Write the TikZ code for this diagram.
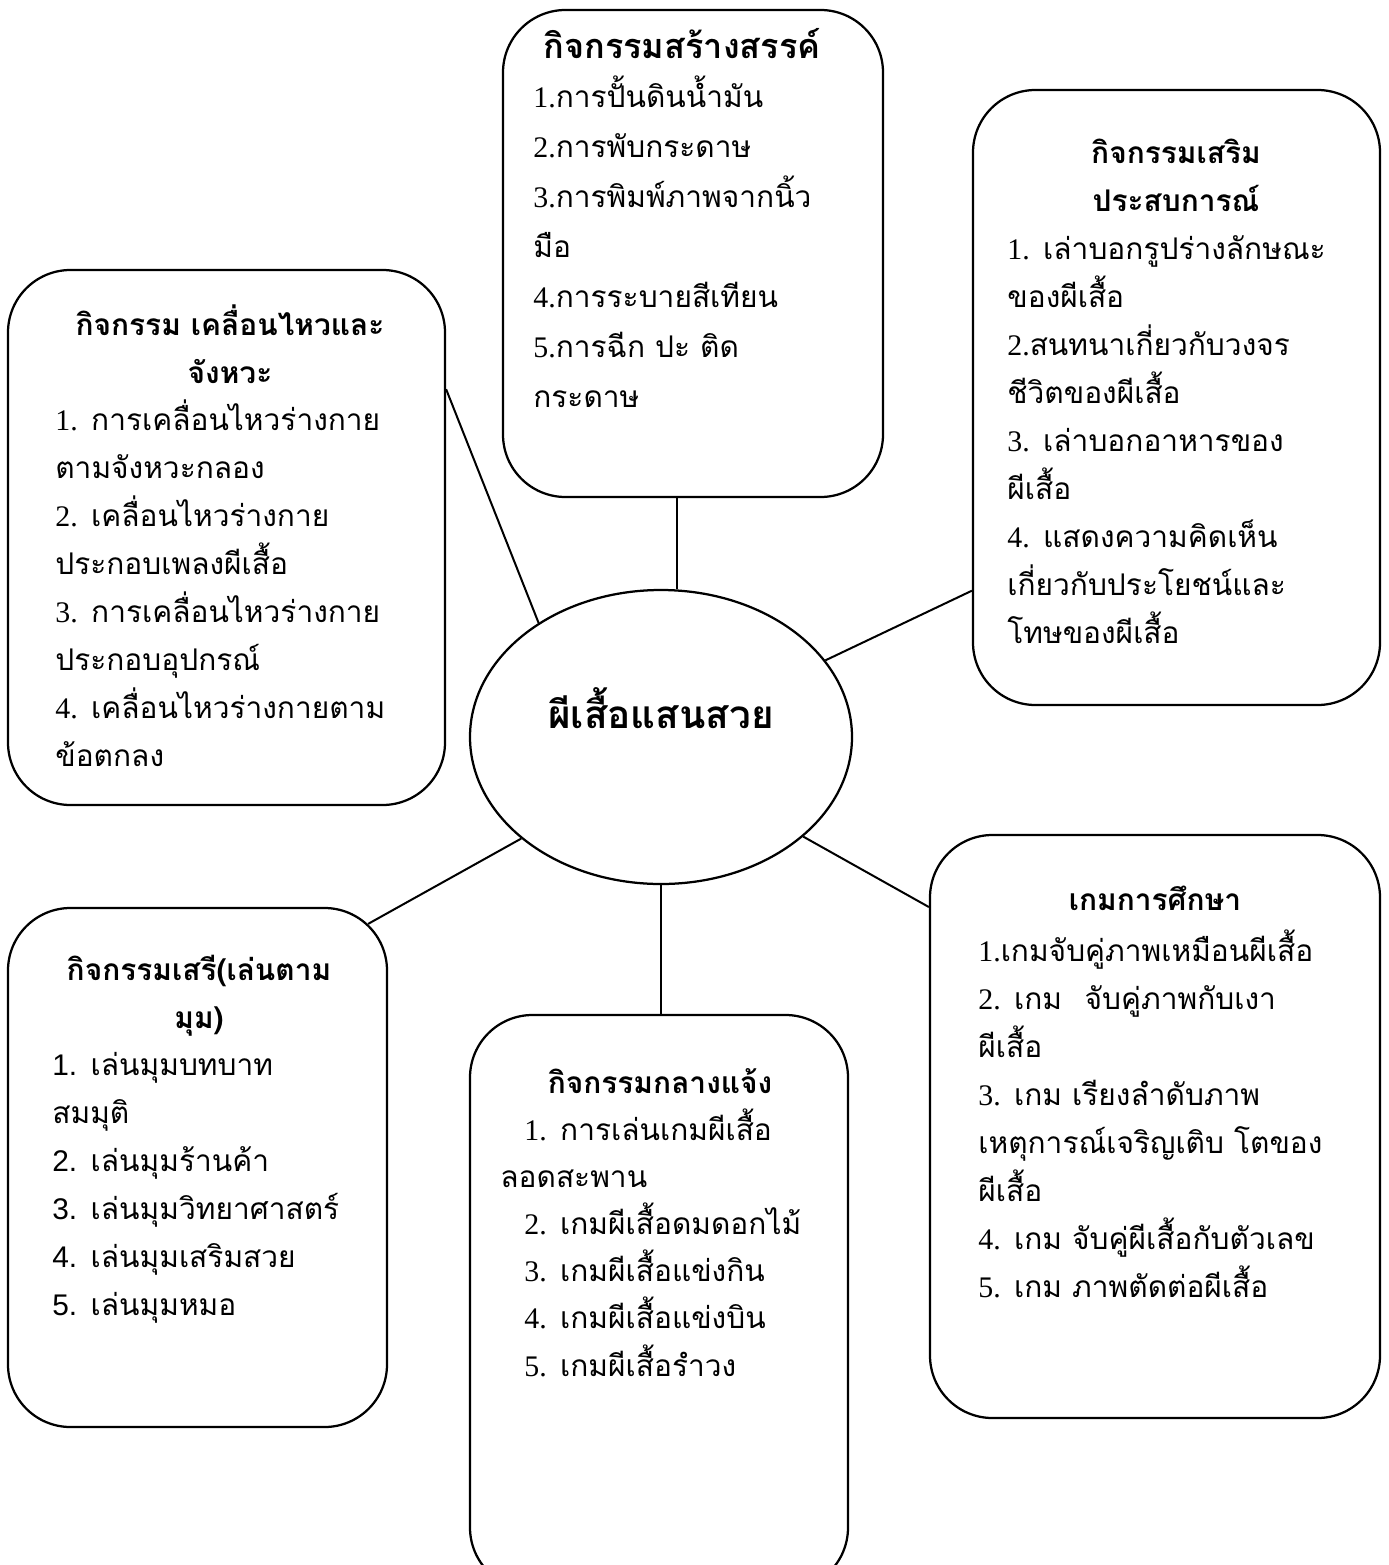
\documentclass[tikz,border=0pt]{standalone}
\usepackage{fontspec}
\setmainfont[Script=Thai]{Loma}
\newfontfamily\serifnum{Liberation Serif}
\newfontfamily\sansnum{Liberation Sans}
\newcommand{\tnum}[1]{{\serifnum #1}}
\newcommand{\snum}[1]{{\sansnum #1}}
\usetikzlibrary{shapes.geometric, calc}

\begin{document}
\begin{tikzpicture}
  [x=0.2mm, y=-0.2mm,
   box/.style={draw, line width=0.45mm, rounded corners=12.5mm, inner sep=0},
   heart/.style={ellipse, draw, line width=0.45mm, inner sep=0, minimum width=76.4mm, minimum height=58.8mm},
   head/.style={anchor=base, align=center, inner sep=0, font=\bfseries\fontsize{17}{27.3}\selectfont},
   list/.style={anchor=base west, align=left, inner sep=0, font=\fontsize{17}{27.3}\selectfont},
   link/.style={line width=0.4mm}]

  \clip (0,0) rectangle (1388,1565);

  % the six boxes round the middle
  \node[box, minimum width=76mm, minimum height=97.4mm] (craft) at (693,253.5) {};
  \node[box, minimum width=81.4mm, minimum height=123mm] (trip) at (1176.5,397.5) {};
  \node[box, minimum width=87.4mm, minimum height=107mm] (move) at (226.5,537.5) {};
  \node[box, minimum width=75.8mm, minimum height=103.8mm] (corner) at (197.5,1167.5) {};
  \node[box, minimum width=75.6mm, minimum height=115mm] (yard) at (659,1302.5) {};
  \node[box, minimum width=90mm, minimum height=116.6mm] (game) at (1155,1126.5) {};

  % middle
  \node[heart] (bfly) at (661,737) {};
  \node[anchor=base, inner sep=0, font=\bfseries\fontsize{22}{26}\selectfont] (bflyname) at (661,728) {ผีเสื้อแสนสวย};

  % texts in the boxes (placed by the baseline of their last line)
  \node[head, font=\bfseries\fontsize{19.5}{27.3}\selectfont] (crafthead) at (682,58) {กิจกรรมสร้างสรรค์};
  \node[list, font=\fontsize{17}{28.4}\selectfont] (craftlist) at (533,407) {\tnum{1.}การปั้นดินน้ำมัน\\ \tnum{2.}การพับกระดาษ\\ \tnum{3.}การพิมพ์ภาพจากนิ้ว\\ มือ\\ \tnum{4.}การระบายสีเทียน\\ \tnum{5.}การฉีก ปะ ติด\\ กระดาษ};

  \node[head] (triphead) at (1176,211) {กิจกรรมเสริม\\ ประสบการณ์};
  \node[list] (triplist) at (1007,643) {\tnum{1.} เล่าบอกรูปร่างลักษณะ\\ ของผีเสื้อ\\ \tnum{2.}สนทนาเกี่ยวกับวงจร\\ ชีวิตของผีเสื้อ\\ \tnum{3.} เล่าบอกอาหารของ\\ ผีเสื้อ\\ \tnum{4.} แสดงความคิดเห็น\\ เกี่ยวกับประโยชน์และ\\ โทษของผีเสื้อ};

  \node[head] (movehead) at (230,383) {กิจกรรม เคลื่อนไหวและ\\ จังหวะ};
  \node[list] (movelist) at (55,766) {\tnum{1.} การเคลื่อนไหวร่างกาย\\ ตามจังหวะกลอง\\ \tnum{2.} เคลื่อนไหวร่างกาย\\ ประกอบเพลงผีเสื้อ\\ \tnum{3.} การเคลื่อนไหวร่างกาย\\ ประกอบอุปกรณ์\\ \tnum{4.} เคลื่อนไหวร่างกายตาม\\ ข้อตกลง};

  \node[head] (cornerhead) at (199,1028) {กิจกรรมเสรี(เล่นตาม\\ มุม)};
  \node[list] (cornerlist) at (52,1315) {\snum{1.} เล่นมุมบทบาท\\ สมมุติ\\ \snum{2.} เล่นมุมร้านค้า\\ \snum{3.} เล่นมุมวิทยาศาสตร์\\ \snum{4.} เล่นมุมเสริมสวย\\ \snum{5.} เล่นมุมหมอ};

  \node[head] (yardhead) at (660,1093) {กิจกรรมกลางแจ้ง};
  \node[list, font=\fontsize{17}{26.8}\selectfont] (yardlist) at (500,1376) {\hspace*{4.8mm}\tnum{1.} การเล่นเกมผีเสื้อ\\ ลอดสะพาน\\ \hspace*{4.8mm}\tnum{2.} เกมผีเสื้อดมดอกไม้\\ \hspace*{4.8mm}\tnum{3.} เกมผีเสื้อแข่งกิน\\ \hspace*{4.8mm}\tnum{4.} เกมผีเสื้อแข่งบิน\\ \hspace*{4.8mm}\tnum{5.} เกมผีเสื้อรำวง};

  \node[head] (gamehead) at (1155,910) {เกมการศึกษา};
  \node[list] (gamelist) at (978,1297) {\tnum{1.}เกมจับคู่ภาพเหมือนผีเสื้อ\\ \tnum{2.} เกม\hspace{4.5mm}จับคู่ภาพกับเงา\\ ผีเสื้อ\\ \tnum{3.} เกม เรียงลำดับภาพ\\ เหตุการณ์เจริญเติบ โตของ\\ ผีเสื้อ\\ \tnum{4.} เกม จับคู่ผีเสื้อกับตัวเลข\\ \tnum{5.} เกม ภาพตัดต่อผีเสื้อ};

  % links to the middle
  \draw[link] (bfly.84) -- (bfly.84 |- craft.south);
  \draw[link] (bfly.137) -- ($(move.north east)!0.224!(move.south east)$);
  \draw[link] (bfly.25) -- ($(trip.north west)!0.813!(trip.south west)$);
  \draw[link] (bfly.216) -- ($(corner.north east)+(-20,17)$);
  \draw[link] (bfly.south) -- (bfly.south |- yard.north);
  \draw[link] (bfly.325) -- ($(game.north west)!0.125!(game.south west)$);
\end{tikzpicture}
\end{document}
